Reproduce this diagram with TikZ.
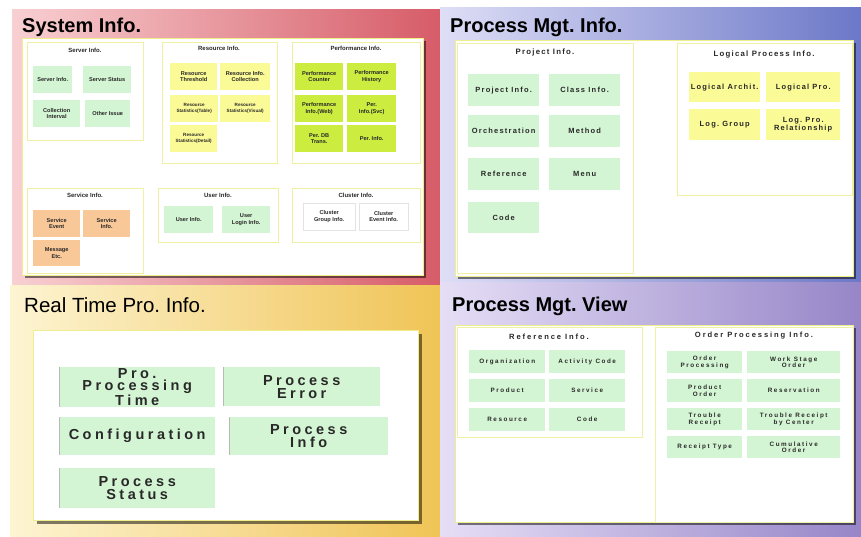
\documentclass[tikz,border=0pt]{standalone}
\usepackage{fontspec}
\setmainfont{Liberation Sans}
\setsansfont{Liberation Sans}
\newfontfamily\spwide[LetterSpace=24]{Liberation Sans}
\newfontfamily\spmid[LetterSpace=16]{Liberation Sans}
\newfontfamily\spview[LetterSpace=25]{Liberation Sans}
\usetikzlibrary{shadows}
\frenchspacing

\definecolor{tlL}{RGB}{248,208,210}
\definecolor{tlR}{RGB}{214,92,104}
\definecolor{trL}{RGB}{222,222,246}
\definecolor{trR}{RGB}{108,120,200}
\definecolor{blL}{RGB}{253,244,210}
\definecolor{blR}{RGB}{240,196,86}
\definecolor{brL}{RGB}{230,222,246}
\definecolor{brR}{RGB}{150,134,200}
\definecolor{cardline}{RGB}{238,238,140}
\definecolor{frameline}{RGB}{240,240,165}
\definecolor{boxgreen}{RGB}{212,245,212}
\definecolor{boxyellow}{RGB}{250,250,150}
\definecolor{boxlime}{RGB}{204,236,64}
\definecolor{boxorange}{RGB}{249,200,152}
\definecolor{boxtext}{RGB}{40,40,40}

\begin{document}
\begin{tikzpicture}[x=1pt,y=-1pt,
  wh/.style 2 args={minimum width=#1pt,minimum height=#2pt},
  ptitle/.style={anchor=base west,inner sep=0pt,text=black,font=\fontsize{20}{22}\selectfont\bfseries},
  card/.style={draw=cardline,line width=0.9pt,fill=white,anchor=north west,inner sep=0pt,
    drop shadow={shadow xshift=3pt,shadow yshift=-3pt,opacity=0.5,fill=black}},
  frame/.style={draw=frameline,line width=0.8pt,fill=white,anchor=north west,inner sep=0pt},
  ftitle/.style={inner sep=0pt,text=boxtext},
  bx/.style={anchor=north west,inner sep=1pt,align=center,text=boxtext},
  gb/.style={bx,fill=boxgreen},
  yb/.style={bx,fill=boxyellow},
  lb/.style={bx,fill=boxlime},
  ob/.style={bx,fill=boxorange},
  wb/.style={bx,fill=white,draw=gray!22},
  ledge/.style={path picture={\draw[gray!55,line width=1.2pt]
    (path picture bounding box.south west) -- (path picture bounding box.north west);}},
  fsys/.style={font=\fontsize{5.6}{6.3}\selectfont\bfseries},
  fsyss/.style={font=\fontsize{4.6}{6.3}\selectfont\bfseries},
  fsysT/.style={font=\fontsize{6}{7}\selectfont\bfseries},
  fpmi/.style={font=\spmid\fontsize{7.5}{8.4}\selectfont\bfseries},
  fpmiT/.style={font=\spmid\fontsize{7.8}{8.6}\selectfont\bfseries},
  frt/.style={font=\spwide\fontsize{14.5}{12.8}\selectfont\bfseries},
  fview/.style={font=\spview\fontsize{6.3}{6.9}\selectfont\bfseries},
  fviewT/.style={font=\spview\fontsize{7.6}{8.2}\selectfont\bfseries}]
\useasboundingbox (0,0) rectangle (861,537);
\fill[white] (0,0) rectangle (861,537);

% quadrant backgrounds
\shade[left color=tlL,right color=tlR] (12,10) rectangle (440,285);
\shade[left color=trL,right color=trR] (440,8) rectangle (861,282);
\shade[left color=blL,right color=blR] (10,285) rectangle (440,537);
\shade[left color=brL,right color=brR] (440,282) rectangle (861,537);

% ---------------- System Info. ----------------
\node[ptitle] (sysTitle) at (22,33) {System Info.};
\node[card,wh={401}{237}] (sysCard) at (22,38) {};

\node[frame,wh={116}{98}] (srvF) at (27,42) {};
\node[ftitle,fsysT] (srvT) at (85,50) {Server Info.};
\node[gb,fsys,wh={39}{27}] (srvA) at (33,66) {Server Info.};
\node[gb,fsys,wh={48}{27}] (srvB) at (83,66) {Server Status};
\node[gb,fsys,wh={47}{27}] (srvC) at (33,100) {Collection\\Interval};
\node[gb,fsys,wh={45}{27}] (srvD) at (85,100) {Other Issue};

\node[frame,wh={115}{121}] (resF) at (162,42) {};
\node[ftitle,fsysT] (resT) at (219,48) {Resource Info.};
\node[yb,fsys,wh={47}{27}] (resA) at (170,63) {Resource\\Threshold};
\node[yb,fsys,wh={50}{27}] (resB) at (220,63) {Resource Info.\\Collection};
\node[yb,fsyss,wh={48}{27}] (resC) at (170,95) {Resource\\Statistics(Table)};
\node[yb,fsyss,wh={50}{27}] (resD) at (220,95) {Resource\\Statistics(Visual)};
\node[yb,fsyss,wh={47}{27}] (resE) at (170,125) {Resource\\Statistics(Detail)};

\node[frame,wh={128}{121}] (perF) at (292,42) {};
\node[ftitle,fsysT] (perT) at (356,48) {Performance Info.};
\node[lb,fsys,wh={48}{27}] (perA) at (295,63) {Performance\\Counter};
\node[lb,fsys,wh={49}{27}] (perB) at (347,63) {Performance\\History};
\node[lb,fsys,wh={48}{27}] (perC) at (295,95) {Performance\\Info.(Web)};
\node[lb,fsys,wh={49}{27}] (perD) at (347,95) {Per.\\Info.(Svc)};
\node[lb,fsys,wh={48}{27}] (perE) at (295,125) {Per. DB\\Trans.};
\node[lb,fsys,wh={49}{27}] (perF2) at (347,125) {Per. Info.};

\node[frame,wh={116}{85}] (svcF) at (27,188) {};
\node[ftitle,fsysT] (svcT) at (85,195) {Service Info.};
\node[ob,fsys,wh={47}{27}] (svcA) at (33,210) {Service\\Event};
\node[ob,fsys,wh={47}{27}] (svcB) at (83,210) {Service\\Info.};
\node[ob,fsys,wh={47}{26}] (svcC) at (33,240) {Message\\Etc.};

\node[frame,wh={120}{54}] (usrF) at (158,188) {};
\node[ftitle,fsysT] (usrT) at (218,195) {User Info.};
\node[gb,fsys,wh={49}{27}] (usrA) at (164,206) {User Info.};
\node[gb,fsys,wh={48}{27}] (usrB) at (222,206) {User\\Login Info.};

\node[frame,wh={128}{54}] (clsF) at (292,188) {};
\node[ftitle,fsysT] (clsT) at (356,195) {Cluster Info.};
\node[wb,fsys,wh={52}{27}] (clsA) at (303,203) {Cluster\\Group Info.};
\node[wb,fsys,wh={49}{27}] (clsB) at (359,203) {Cluster\\Event Info.};

% ---------------- Process Mgt. Info. ----------------
\node[ptitle] (pmiTitle) at (450,33) {Process Mgt. Info.};
\node[card,wh={398}{236}] (pmiCard) at (455,40) {};

\node[frame,wh={176}{230}] (prjF) at (457,43) {};
\node[ftitle,fpmiT] (prjT) at (545,52) {Project Info.};
\node[gb,fpmi,wh={71}{32}] (prjA) at (468,74) {Project Info.};
\node[gb,fpmi,wh={71}{32}] (prjB) at (549,74) {Class Info.};
\node[gb,fpmi,wh={71}{32}] (prjC) at (468,115) {Orchestration};
\node[gb,fpmi,wh={71}{32}] (prjD) at (549,115) {Method};
\node[gb,fpmi,wh={71}{32}] (prjE) at (468,158) {Reference};
\node[gb,fpmi,wh={71}{32}] (prjF2) at (549,158) {Menu};
\node[gb,fpmi,wh={71}{31}] (prjG) at (468,202) {Code};

\node[frame,wh={175}{152}] (lgcF) at (677,43) {};
\node[ftitle,fpmiT] (lgcT) at (764,55) {Logical Process Info.};
\node[yb,fpmi,wh={71}{30}] (lgcA) at (689,72) {Logical Archit.};
\node[yb,fpmi,wh={74}{30}] (lgcB) at (766,72) {Logical Pro.};
\node[yb,fpmi,wh={71}{31}] (lgcC) at (689,109) {Log. Group};
\node[yb,fpmi,wh={74}{31}] (lgcD) at (766,109) {Log. Pro.\\Relationship};

% ---------------- Real Time Pro. Info. ----------------
\node[ptitle,font=\fontsize{20.5}{22}\selectfont] (rtTitle) at (24,312) {Real Time Pro. Info.};
\node[card,line width=1.4pt,wh={385}{190}] (rtCard) at (33,330) {};
\node[gb,ledge,frt,wh={156}{39}] (rtA) at (59,367) {Pro.\\Processing\\Time};
\node[gb,ledge,frt,wh={157}{39}] (rtB) at (223,367) {Process\\Error};
\node[gb,ledge,frt,wh={156}{38}] (rtC) at (59,417) {Configuration};
\node[gb,ledge,frt,wh={159}{38}] (rtD) at (229,417) {Process\\Info};
\node[gb,ledge,frt,wh={156}{40}] (rtE) at (59,468) {Process\\Status};

% ---------------- Process Mgt. View ----------------
\node[ptitle] (pmvTitle) at (452,311) {Process Mgt. View};
\node[card,wh={398}{197}] (pmvCard) at (455,325) {};

\node[frame,line width=1.1pt,wh={185}{110}] (refF) at (457,327) {};
\node[ftitle,fviewT] (refT) at (549,337) {Reference Info.};
\node[gb,fview,wh={76}{23}] (refA) at (469,350) {Organization};
\node[gb,fview,wh={76}{23}] (refB) at (549,350) {Activity Code};
\node[gb,fview,wh={76}{23}] (refC) at (469,379) {Product};
\node[gb,fview,wh={76}{23}] (refD) at (549,379) {Service};
\node[gb,fview,wh={76}{23}] (refE) at (469,408) {Resource};
\node[gb,fview,wh={76}{23}] (refF2) at (549,408) {Code};

\node[frame,line width=1.1pt,wh={198}{195}] (ordF) at (655,327) {};
\node[ftitle,fviewT] (ordT) at (754,336) {Order Processing Info.};
\node[gb,fview,wh={75}{22}] (ordA) at (667,351) {Order\\Processing};
\node[gb,fview,wh={93}{22}] (ordB) at (747,351) {Work Stage\\Order};
\node[gb,fview,wh={75}{23}] (ordC) at (667,379) {Product\\Order};
\node[gb,fview,wh={93}{23}] (ordD) at (747,379) {Reservation};
\node[gb,fview,wh={75}{22}] (ordE) at (667,408) {Trouble\\Receipt};
\node[gb,fview,wh={93}{22}] (ordF2) at (747,408) {Trouble Receipt\\by Center};
\node[gb,fview,wh={75}{22}] (ordG) at (667,436) {Receipt Type};
\node[gb,fview,wh={93}{22}] (ordH) at (747,436) {Cumulative\\Order};
\end{tikzpicture}
\end{document}
